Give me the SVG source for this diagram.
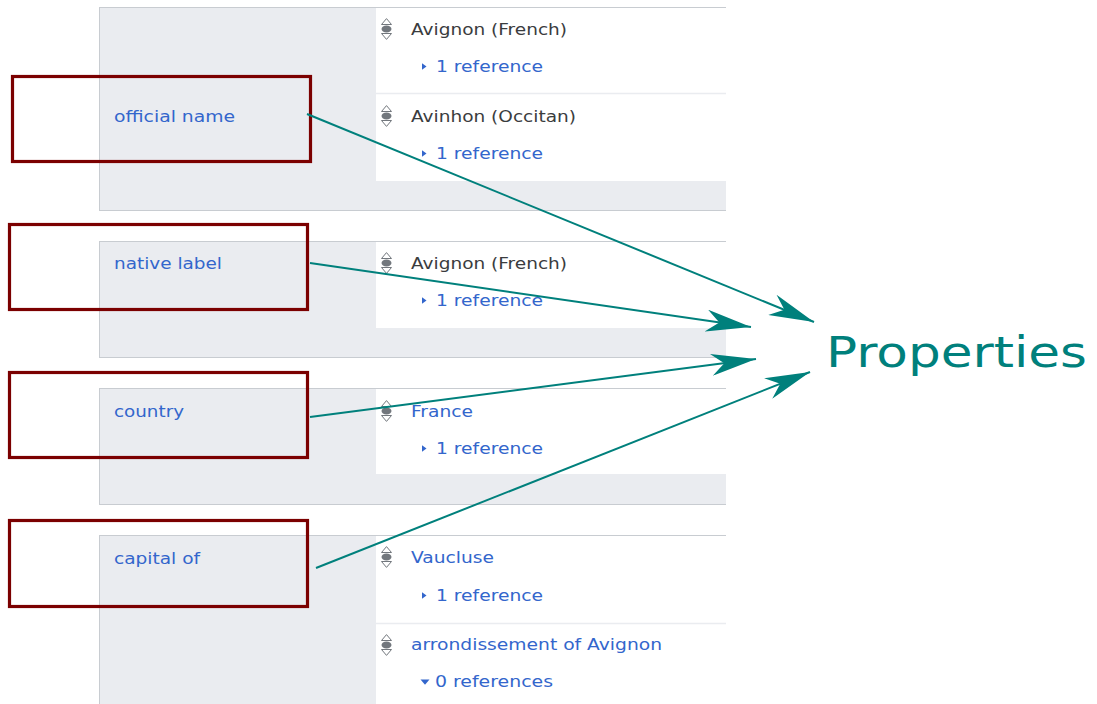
<svg xmlns="http://www.w3.org/2000/svg" xmlns:xlink="http://www.w3.org/1999/xlink" width="1097" height="704" viewBox="0 0 1097 704">
<style>
.panel{fill:#eaecf0;stroke:#c8ccd1;stroke-width:1}
.val{fill:#ffffff}
.div{stroke:#eaecf0;stroke-width:1.5}
.box{fill:none;stroke:#7b0000;stroke-width:3.2}
.lbl{font-family:"DejaVu Sans",sans-serif;font-size:16px;fill:#3366cc}
.dark{font-family:"DejaVu Sans",sans-serif;font-size:16px;fill:#3a3c3e}
.blue{font-family:"DejaVu Sans",sans-serif;font-size:16px;fill:#3366cc}
.tri{fill:#3366cc}
.conn{stroke:#00807c;stroke-width:2;fill:none;marker-end:url(#head)}
.big{font-family:"DejaVu Sans",sans-serif;font-size:43px;fill:#00807c}
</style>
<defs>
<marker id="head" markerUnits="userSpaceOnUse" orient="auto" viewBox="0 0 45 22" refX="45" refY="11" markerWidth="45" markerHeight="22">
<path d="M45,11 L0,0 L13,11 L0,22 Z" fill="#00807c"/>
</marker>
<g id="rank">
<path d="M0.5,6.5 L5.5,0.6 L10.5,6.5 Z" fill="#ffffff" stroke="#72777d" stroke-width="1"/>
<ellipse cx="5.5" cy="11" rx="5" ry="3.5" fill="#72777d"/>
<path d="M0.5,15.5 L10.5,15.5 L5.5,21.4 Z" fill="#ffffff" stroke="#72777d" stroke-width="1"/>
</g>
<path id="rtri" d="M0,0 L4.5,3.2 L0,6.4 Z"/>
</defs>
<rect width="1097" height="704" fill="#ffffff"/>

<g id="panel-official-name">
<rect class="panel" x="99.5" y="7.5" width="640" height="203"/>
<rect class="val" x="376" y="8" width="364" height="173"/>
<line class="div" x1="376" y1="93.5" x2="740" y2="93.5"/>
<text class="lbl" x="114" y="122" textLength="121" lengthAdjust="spacingAndGlyphs">official name</text>
<use xlink:href="#rank" x="381" y="18"/>
<text class="dark" x="411" y="35" textLength="156" lengthAdjust="spacingAndGlyphs">Avignon (French)</text>
<use xlink:href="#rtri" class="tri" x="422" y="63.3"/>
<text class="blue" x="436" y="72" textLength="107" lengthAdjust="spacingAndGlyphs">1 reference</text>
<use xlink:href="#rank" x="381" y="105"/>
<text class="dark" x="411" y="122" textLength="165" lengthAdjust="spacingAndGlyphs">Avinhon (Occitan)</text>
<use xlink:href="#rtri" class="tri" x="422" y="150.3"/>
<text class="blue" x="436" y="159" textLength="107" lengthAdjust="spacingAndGlyphs">1 reference</text>
</g>

<g id="panel-native-label">
<rect class="panel" x="99.5" y="241.5" width="640" height="116"/>
<rect class="val" x="376" y="242" width="364" height="86"/>
<text class="lbl" x="114" y="269" textLength="108" lengthAdjust="spacingAndGlyphs">native label</text>
<use xlink:href="#rank" x="381" y="252"/>
<text class="dark" x="411" y="269" textLength="156" lengthAdjust="spacingAndGlyphs">Avignon (French)</text>
<use xlink:href="#rtri" class="tri" x="422" y="297.3"/>
<text class="blue" x="436" y="306" textLength="107" lengthAdjust="spacingAndGlyphs">1 reference</text>
</g>

<g id="panel-country">
<rect class="panel" x="99.5" y="388.5" width="640" height="116"/>
<rect class="val" x="376" y="389" width="364" height="85"/>
<text class="lbl" x="114" y="417" textLength="70" lengthAdjust="spacingAndGlyphs">country</text>
<use xlink:href="#rank" x="381" y="400"/>
<text class="blue" x="411" y="417" textLength="62" lengthAdjust="spacingAndGlyphs">France</text>
<use xlink:href="#rtri" class="tri" x="422" y="445.3"/>
<text class="blue" x="436" y="454" textLength="107" lengthAdjust="spacingAndGlyphs">1 reference</text>
</g>

<g id="panel-capital-of">
<rect class="panel" x="99.5" y="535.5" width="640" height="180"/>
<rect class="val" x="376" y="536" width="364" height="170"/>
<line class="div" x1="376" y1="623.5" x2="740" y2="623.5"/>
<text class="lbl" x="114" y="564" textLength="86" lengthAdjust="spacingAndGlyphs">capital of</text>
<use xlink:href="#rank" x="381" y="546"/>
<text class="blue" x="411" y="563" textLength="83" lengthAdjust="spacingAndGlyphs">Vaucluse</text>
<use xlink:href="#rtri" class="tri" x="422" y="592.3"/>
<text class="blue" x="436" y="601" textLength="107" lengthAdjust="spacingAndGlyphs">1 reference</text>
<use xlink:href="#rank" x="381" y="634"/>
<text class="blue" x="411" y="650" textLength="251" lengthAdjust="spacingAndGlyphs">arrondissement of Avignon</text>
<path class="tri" d="M420.5,679.5 L429.5,679.5 L425,684.8 Z"/>
<text class="blue" x="435" y="687" textLength="118" lengthAdjust="spacingAndGlyphs">0 references</text>
</g>

<rect x="726" y="0" width="371" height="704" fill="#ffffff"/>

<g id="box-official-name"><rect class="box" x="12.5" y="76.5" width="298" height="85"/></g>
<g id="box-native-label"><rect class="box" x="9.5" y="224.5" width="298" height="85"/></g>
<g id="box-country"><rect class="box" x="9.5" y="372.5" width="298" height="85"/></g>
<g id="box-capital-of"><rect class="box" x="9.5" y="520.5" width="298" height="86"/></g>

<g id="connectors">
<line class="conn" x1="307" y1="114" x2="814" y2="322"/>
<line class="conn" x1="310" y1="263" x2="751" y2="327"/>
<line class="conn" x1="310" y1="417" x2="756" y2="359"/>
<line class="conn" x1="316" y1="568" x2="810" y2="372"/>
</g>

<g id="properties">
<text class="big" x="826" y="367" textLength="261" lengthAdjust="spacingAndGlyphs">Properties</text>
</g>
</svg>
